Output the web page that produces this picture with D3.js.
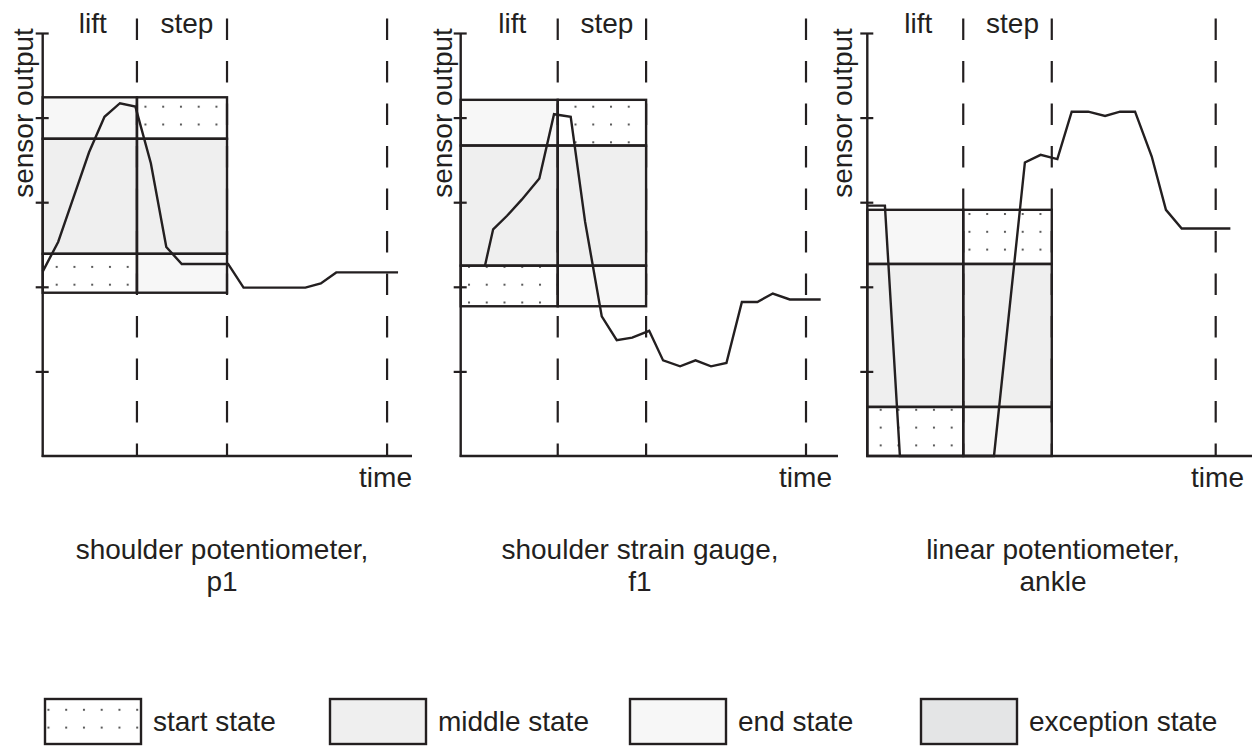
<!DOCTYPE html>
<html>
<head>
<meta charset="utf-8">
<script src="https://cdn.jsdelivr.net/npm/d3@7"></script>
<style>
  html, body { margin: 0; padding: 0; background: #fff; }
  svg text { font-family: "Liberation Sans", Arial, Helvetica, sans-serif; fill: #231f20; }
</style>
</head>
<body>
<svg id="chart" width="1259" height="751"></svg>
<script>
// ---- data -------------------------------------------------------------
const panelTitles = [
  ["shoulder potentiometer,", "p1"],
  ["shoulder strain gauge,", "f1"],
  ["linear potentiometer,", "ankle"]
];
const phaseLabels = ["lift", "step"];
const yTicks = [1, 2, 3, 4, 5];

// sensor traces: time (samples) and output (axis units)
const p1Time  = [0,1,2,3,4,5,6,7,8,9,10,11,12,13,14,15,16,17,18,19,20,21,22,23];
const p1Value = [2.18,2.53,3.06,3.59,4.01,4.17,4.13,3.46,2.47,2.27,2.27,2.27,2.27,
                 1.99,1.99,1.99,1.99,1.99,2.04,2.17,2.17,2.17,2.17,2.17];
const f1Time  = [1.57,2.1,3.0,3.95,5.09,6.04,7.12,8.05,9.13,10.1,11.1,12.2,13.1,14.2,
                 15.2,16.2,17.2,18.2,19.2,20.2,21.3,23.3];
const f1Value = [2.25,2.68,2.84,3.03,3.28,4.04,4.01,2.77,1.65,1.37,1.40,1.48,1.13,1.06,
                 1.13,1.06,1.10,1.82,1.82,1.92,1.85,1.85];
const ankleTime  = [0,1.14,2.11,8.2,10.2,11.22,12.3,13.23,14.3,15.39,16.36,17.33,18.41,19.33,20.35,23.5];
const ankleValue = [2.96,2.96,0,0,3.47,3.56,3.51,4.07,4.07,4.02,4.07,4.07,3.54,2.91,2.69,2.69];

// phase boundaries (end of lift, end of step, end of trial)
const p1Phases    = [6.1, 11.93, 22.29];
const f1Phases    = [6.28, 12.0, 22.35];
const anklePhases = [6.21, 11.94, 22.55];

// state band thresholds, bottom to top
const p1Bands    = [1.93, 2.39, 3.75, 4.24];
const f1Bands    = [1.77, 2.25, 3.67, 4.21];
const ankleBands = [0, 0.58, 2.27, 2.91];

// state of each band (bottom to top) in each phase
const liftStates = ["start", "middle", "end"];
const stepStates = ["end", "middle", "start"];

const legendStates = ["start", "middle", "end", "exception"];
const legendLabels = ["start state", "middle state", "end state", "exception state"];

// ---- layout -----------------------------------------------------------
const ink = "#231f20";
const stateFill = { middle: "#efefef", end: "#f7f7f7", exception: "#e4e5e6" };
const panelX   = [42.7, 460.7, 867.3];
const axisEnd  = [412, 838, 1252];
const yLabelX  = [33, 452, 852];
const titleX   = [222, 640, 1053];
const timeX    = [412, 832, 1244];
const dotOrigin = [[56.7, 106.7], [469, 106.7], [880.7, 214]];
const pxPerSample = 15.45;

const panels = [
  { time: p1Time, value: p1Value, phases: p1Phases, bands: p1Bands },
  { time: f1Time, value: f1Value, phases: f1Phases, bands: f1Bands },
  { time: ankleTime, value: ankleValue, phases: anklePhases, bands: ankleBands }
];

const svg = d3.select("#chart");
const defs = svg.append("defs");

function dotPattern(id, ox, oy) {
  const p = defs.append("pattern")
    .attr("id", id)
    .attr("patternUnits", "userSpaceOnUse")
    .attr("x", ox - 1).attr("y", oy - 1)
    .attr("width", 17.75).attr("height", 17.8);
  p.append("rect").attr("width", 17.75).attr("height", 17.8).attr("fill", "#ffffff");
  p.append("rect").attr("x", 0).attr("y", 0).attr("width", 2).attr("height", 2).attr("fill", "#5a5a5a");
}

const y = d3.scaleLinear().domain([0, 5]).range([456, 33]);

panels.forEach((pd, i) => {
  const x0 = panelX[i];
  const x = d3.scaleLinear()
    .domain([0, (axisEnd[i] - x0) / pxPerSample])
    .range([x0, axisEnd[i]]);
  dotPattern("dots" + i, dotOrigin[i][0], dotOrigin[i][1]);

  const g = svg.append("g");

  // state cells
  const cells = [];
  const cols = [[0, pd.phases[0], liftStates], [pd.phases[0], pd.phases[1], stepStates]];
  cols.forEach(([t0, t1, states]) => {
    states.forEach((s, b) => {
      cells.push({ t0, t1, v0: pd.bands[b], v1: pd.bands[b + 1], state: s });
    });
  });
  g.selectAll("rect.cell").data(cells).join("rect")
    .attr("class", "cell")
    .attr("x", d => x(d.t0)).attr("y", d => y(d.v1))
    .attr("width", d => x(d.t1) - x(d.t0)).attr("height", d => y(d.v0) - y(d.v1))
    .attr("fill", d => d.state === "start" ? `url(#dots${i})` : stateFill[d.state]);

  // phase boundaries
  g.selectAll("line.phase").data(pd.phases).join("line")
    .attr("class", "phase")
    .attr("x1", d => x(d)).attr("x2", d => x(d))
    .attr("y1", 18.5).attr("y2", y(0))
    .attr("stroke", ink).attr("stroke-width", 2.2)
    .attr("stroke-dasharray", "21.5,21");

  // cell outlines
  g.selectAll("rect.cellEdge").data(cells).join("rect")
    .attr("class", "cellEdge")
    .attr("x", d => x(d.t0)).attr("y", d => y(d.v1))
    .attr("width", d => x(d.t1) - x(d.t0)).attr("height", d => y(d.v0) - y(d.v1))
    .attr("fill", "none").attr("stroke", ink).attr("stroke-width", 2.4);

  // sensor trace
  const line = d3.line().x(d => x(d[0])).y(d => y(d[1]));
  g.append("path")
    .datum(d3.zip(pd.time, pd.value))
    .attr("d", line)
    .attr("fill", "none").attr("stroke", ink).attr("stroke-width", 2.4)
    .attr("stroke-linejoin", "miter");

  // axes
  const yAxis = d3.axisLeft(y).tickValues(yTicks).tickSize(7).tickFormat("");
  const ya = g.append("g").attr("transform", `translate(${x0},0)`).call(yAxis);
  ya.select(".domain").remove();
  ya.selectAll(".tick line")
    .attr("x1", -7).attr("x2", 6)
    .attr("stroke", ink).attr("stroke-width", 2.2);
  g.append("line")
    .attr("x1", x0).attr("x2", x0).attr("y1", y(5)).attr("y2", y(0) + 1)
    .attr("stroke", ink).attr("stroke-width", 2.4);
  g.append("line")
    .attr("x1", x0 - 1).attr("x2", axisEnd[i]).attr("y1", y(0)).attr("y2", y(0))
    .attr("stroke", ink).attr("stroke-width", 2.4);

  // labels
  g.append("text")
    .attr("transform", `translate(${yLabelX[i]},113) rotate(-90)`)
    .attr("text-anchor", "middle").attr("font-size", 28)
    .text("sensor output");
  g.append("text")
    .attr("x", timeX[i]).attr("y", 487)
    .attr("text-anchor", "end").attr("font-size", 28)
    .text("time");
  g.append("text")
    .attr("x", x(pd.phases[0] / 2) + 3).attr("y", 33)
    .attr("text-anchor", "middle").attr("font-size", 28)
    .text(phaseLabels[0]);
  g.append("text")
    .attr("x", x((pd.phases[0] + pd.phases[1]) / 2) + 5).attr("y", 33)
    .attr("text-anchor", "middle").attr("font-size", 28)
    .text(phaseLabels[1]);
  g.selectAll("text.title").data(panelTitles[i]).join("text")
    .attr("class", "title")
    .attr("x", titleX[i]).attr("y", (d, k) => 559 + k * 32)
    .attr("text-anchor", "middle").attr("font-size", 28)
    .text(d => d);
});

// ---- legend -----------------------------------------------------------
dotPattern("dotsLegend", 56.7, 705);
const legendX = [45, 330, 630, 921];
const lg = svg.append("g").selectAll("g").data(legendStates).join("g")
  .attr("transform", (d, k) => `translate(${legendX[k]},699)`);
lg.append("rect")
  .attr("width", 96).attr("height", 45)
  .attr("fill", d => d === "start" ? "url(#dotsLegend)" : stateFill[d])
  .attr("stroke", ink).attr("stroke-width", 2.4);
lg.append("text")
  .attr("x", 108).attr("y", 32)
  .attr("font-size", 28)
  .text((d, k) => legendLabels[k]);
</script>
</body>
</html>
